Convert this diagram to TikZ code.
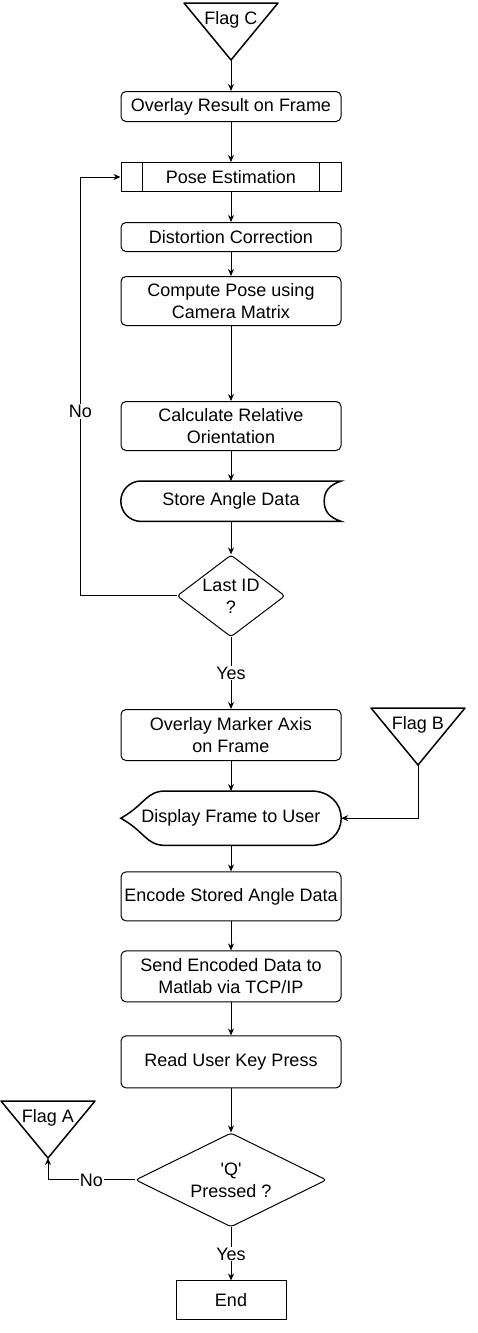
\documentclass[tikz,border=0pt]{standalone}
\usepackage{fontspec}
\setmainfont{Liberation Sans}
\usetikzlibrary{arrows.meta,positioning,calc,shapes.geometric}

\begin{document}
\begin{tikzpicture}[
        x=1pt,y=-1pt,
        every node/.style={font=\fontsize{18}{22}\selectfont},
        box/.style={draw,line width=1pt,rounded corners=5pt,minimum width=220pt,align=center,inner sep=2pt},
        plain/.style={minimum width=220pt,align=center,inner sep=2pt},
        flagline/.style={draw,line width=1.5pt,line join=round},
        decide/.style={draw,line width=1pt,diamond,align=center,inner sep=0pt,rounded corners=3pt},
        lbl/.style={fill=white,inner sep=1pt},
        arr/.style={-{Stealth[length=7pt,width=6pt]},line width=1pt}
      ]
        \useasboundingbox (0,0) rectangle (478,1333);
        \node (flagc) at (231,20) {Flag C};
        \node[box,minimum height=30pt,anchor=north] (ovres) at (231,91) {Overlay Result on Frame};
        \node[box,rounded corners=0pt,minimum height=29pt,below=40pt of ovres] (pose) {Pose Estimation};
        \node[box,minimum height=29pt,below=30pt of pose] (dist) {Distortion Correction};
        \node[box,minimum height=49pt,below=24pt of dist] (comp) {Compute Pose using\\Camera Matrix};
        \node[box,minimum height=49pt,anchor=north] (calc) at (231,401) {Calculate Relative\\Orientation};
        \node[plain,minimum height=40pt,below=30pt of calc] (store) {Store Angle Data};
        \node[decide,aspect=1.3,minimum width=108pt,minimum height=82pt,below=33pt of store] (lastid) {Last ID\\?};
        \node[box,minimum height=51pt,anchor=north] (ovmark) at (231,709) {Overlay Marker Axis\\on Frame};
        \node (flagb) at (418,725) {Flag B};
        \node[plain,minimum height=54pt,below=30pt of ovmark] (disp) {Display Frame to User};
        \node[box,minimum height=49pt,below=26pt of disp] (enc) {Encode Stored Angle Data};
        \node[box,minimum height=51pt,below=29pt of enc] (send) {Send Encoded Data to\\Matlab via TCP/IP};
        \node[box,minimum height=52pt,below=33pt of send] (read) {Read User Key Press};
        \node[decide,aspect=2,minimum width=191pt,minimum height=94pt,below=44pt of read] (qpress) {\textquotesingle Q\textquotesingle\\Pressed ?};
        \node (flaga) at (48,1118) {Flag A};
        \node[draw,line width=1pt,minimum width=110pt,minimum height=39pt,below=53pt of qpress] (end) {End};

        % off-page flags
        \foreach \f in {flagc,flagb,flaga} {
          \draw[flagline] ([shift={(-47,-17)}]\f.center) -- ([shift={(47,-17)}]\f.center) -- ([shift={(0,40)}]\f.center) -- cycle;
          \coordinate (\f-tip) at ([shift={(0,40)}]\f.center);
        }
        % predefined process bars
        \draw[line width=1pt] ([xshift=22pt]pose.north west) -- ([xshift=22pt]pose.south west);
        \draw[line width=1pt] ([xshift=-22pt]pose.north east) -- ([xshift=-22pt]pose.south east);
        % stored data outline
        \draw[line width=1.5pt] ([xshift=20pt]store.north west) -- (store.north east)
          .. controls ([xshift=-12pt,yshift=-4pt]store.north east) and ([xshift=-17pt,yshift=10pt]store.east) .. ([xshift=-17pt]store.east)
          .. controls ([xshift=-17pt,yshift=-10pt]store.east) and ([xshift=-12pt,yshift=4pt]store.south east) .. (store.south east)
          -- ([xshift=20pt]store.south west)
          .. controls ([xshift=9pt]store.south west) and ([yshift=-11pt]store.west) .. (store.west)
          .. controls ([yshift=11pt]store.west) and ([xshift=9pt]store.north west) .. cycle;
        % display outline
        \draw[line width=1.5pt] (disp.west)
          .. controls ([xshift=25pt,yshift=14pt]disp.west) and ([xshift=25pt]disp.north west) .. ([xshift=45pt]disp.north west)
          -- ([xshift=-30pt]disp.north east)
          .. controls ([xshift=-12pt]disp.north east) and ([yshift=15pt]disp.east) .. (disp.east)
          .. controls ([yshift=-15pt]disp.east) and ([xshift=-12pt]disp.south east) .. ([xshift=-30pt]disp.south east)
          -- ([xshift=45pt]disp.south west)
          .. controls ([xshift=25pt]disp.south west) and ([xshift=25pt,yshift=-14pt]disp.west) .. cycle;

        \draw[arr] (flagc-tip) -- (ovres);
        \draw[arr] (ovres) -- (pose);
        \draw[arr] (pose) -- (dist);
        \draw[arr] (dist) -- (comp);
        \draw[arr] (comp) -- (calc);
        \draw[arr] (calc) -- (store);
        \draw[arr] (store) -- (lastid);
        \draw[arr] (lastid.west) -- ++(-96,0) |- (pose.west) node[lbl,pos=0.22] {No};
        \draw[arr] (lastid) -- (ovmark) node[lbl,midway] {Yes};
        \draw[arr] (ovmark) -- (disp);
        \draw[arr] (flagb-tip) |- (disp.east);
        \draw[arr] (disp) -- (enc);
        \draw[arr] (enc) -- (send);
        \draw[arr] (send) -- (read);
        \draw[arr] (read) -- (qpress);
        \draw[arr] (qpress.west) -| (flaga-tip) node[lbl,pos=0.25] {No};
        \draw[arr] (qpress) -- (end) node[lbl,midway] {Yes};
      \end{tikzpicture}
\end{document}
